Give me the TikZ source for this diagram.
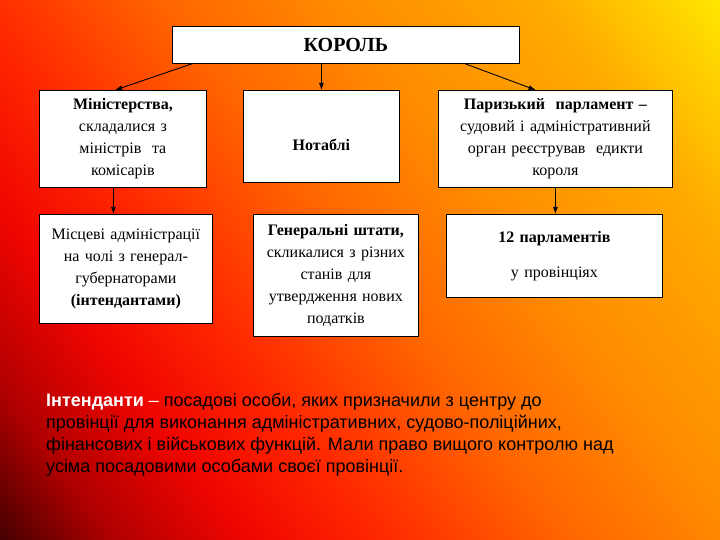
\documentclass[tikz,border=0pt]{standalone}
\usepackage{fontspec}
\setmainfont{Liberation Serif}
\setsansfont{Liberation Sans}
\usepackage{tikz}
\usetikzlibrary{arrows.meta}

\definecolor{bgA}{RGB}{70,0,0}
\definecolor{bgB}{RGB}{175,0,0}
\definecolor{bgC}{RGB}{240,5,0}
\definecolor{bgD}{RGB}{255,40,0}
\definecolor{bgE}{RGB}{255,100,0}
\definecolor{bgF}{RGB}{255,140,0}
\definecolor{bgG}{RGB}{255,170,0}
\definecolor{bgH}{RGB}{255,230,0}
\pgfdeclarehorizontalshading{bgshade}{100bp}{color(0bp)=(bgA); color(25bp)=(bgA); color(30bp)=(bgB); color(36bp)=(bgC); color(42bp)=(bgD); color(50bp)=(bgE); color(58bp)=(bgF); color(67bp)=(bgG); color(75bp)=(bgH); color(100bp)=(bgH)}

\begin{document}
\begin{tikzpicture}[x=1pt, y=-1pt, >={Latex[length=7pt,width=5pt]}]

  %Styles for picture
  \tikzset
  {
  block/.style={draw=black, line width=0.8pt, fill=white, anchor=north west, inner xsep=4pt, inner ysep=0pt, align=center, font=\fontsize{16}{22}\selectfont},
  kingblock/.style={block, font=\fontsize{20}{24}\selectfont\bfseries},
  arrow/.style={->, line width=0.9pt},
  }

  % Background
  \useasboundingbox (0,0) rectangle (720,540);
  \begin{scope}
    \clip (0,0) rectangle (720,540);
    \shade[shading=bgshade, shading angle=36.87] (360,270) +(-450,-450) rectangle +(450,450);
  \end{scope}

  % Nodes
  \node[kingblock, text width=339pt, minimum height=37pt] (king) at (172,26) {КОРОЛЬ};
  \node[block, text width=159pt, minimum height=97pt] (box1) at (39,90)
    {\textbf{Міністерства,}\\ складалися з\\ міністрів~ та\\ комісарів};
  \node[block, text width=148pt, minimum height=92pt, text height=29pt] (box2) at (243,90) {\textbf{Нотаблі}};
  \node[block, text width=226pt, minimum height=97pt] (box3) at (438,90)
    {\textbf{Паризький~ парламент –}\\ судовий і адміністративний\\ орган реєстрував~ едикти\\ короля};
  \node[block, text width=165pt, minimum height=109pt] (box4) at (39,214)
    {Місцеві адміністрації\\ на чолі з генерал-\\ губернаторами\\ \textbf{(інтендантами)}};
  \node[block, text width=157pt, minimum height=122pt] (box5) at (253,214)
    {\textbf{Генеральні штати,}\\ скликалися з різних\\ станів для\\ утвердження нових\\ податків};
  \node[block, text width=208pt, minimum height=83pt] (box6) at (446,214)
    {\textbf{12 парламентів}\\[13pt] у провінціях};

  \node[anchor=north west, inner sep=0pt, align=left, text=black,
        font=\sffamily\fontsize{18}{22}\selectfont] (note) at (46,393)
    {{\color{white}\textbf{Інтенданти} –} посадові особи, яких призначили з центру до\\
     провінції для виконання адміністративних, судово-поліційних,\\
     фінансових і військових функцій. Мали право вищого контролю над\\
     усіма посадовими особами своєї провінції.};

  % Edges
  \draw[arrow] (king.187) -- (box1.99);
  \draw[arrow] (king.south -| box2.north) -- (box2.north);
  \draw[arrow] (king.351) -- (box3.112);
  \draw[arrow] (box1.259) -- (box1.259 |- box4.north);
  \draw[arrow] (box3.south) -- (box3.south |- box6.north);
\end{tikzpicture}
\end{document}
